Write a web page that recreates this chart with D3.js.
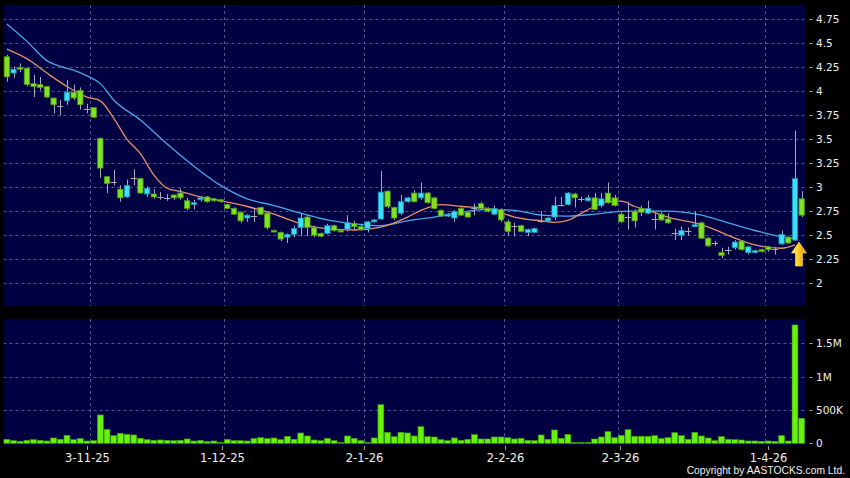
<!DOCTYPE html>
<html><head><meta charset="utf-8">
<script src="https://cdn.jsdelivr.net/npm/d3@7"></script>
<style>html,body{margin:0;padding:0;background:#000;}svg{display:block;}</style>
</head><body><svg id="c" width="850" height="478"></svg>
<script>
// ---- data ----
const openP  = [4.36,4.19,4.25,4.24,4.08,4.07,4.05,3.93,3.85,3.90, 3.99,4.01,3.82,3.83,3.51,3.11,3.06,2.98,2.90,3.10,
                3.09,2.93,2.93,2.90,2.89,2.92,2.94,2.86,2.82,2.87, 2.90,2.88,2.87,2.82,2.78,2.74,2.68,2.70,2.79,2.73,
                2.55,2.53,2.48,2.51,2.58,2.69,2.58,2.52,2.52,2.60, 2.55,2.56,2.62,2.59,2.57,2.64,2.67,2.96,2.79,2.73,
                2.85,2.94,2.89,2.94,2.89,2.76,2.70,2.68,2.78,2.74, 2.78,2.83,2.78,2.72,2.77,2.64,2.60,2.60,2.53,2.53,
                2.65,2.65,2.69,2.82,2.82,2.93,2.88,2.86,2.89,2.81, 2.94,2.89,2.72,2.69,2.75,2.78,2.73,2.67,2.72,2.67,
                2.52,2.50,2.55,2.59,2.63,2.47,2.42,2.32,2.35,2.37, 2.44,2.32,2.32,2.35,2.38,2.36,2.41,2.48,2.45,2.88];
const highP  = [4.38,4.26,4.29,4.25,4.17,4.15,4.05,3.93,3.91,4.12, 4.07,4.04,3.87,3.83,3.52,3.12,3.18,3.02,3.08,3.19,
                3.10,3.01,2.98,2.95,2.93,2.92,2.99,2.89,2.87,2.91, 2.91,2.89,2.88,2.83,2.79,2.75,2.72,2.78,2.80,2.73,
                2.56,2.54,2.52,2.60,2.73,2.71,2.60,2.53,2.62,2.61, 2.56,2.71,2.65,2.62,2.65,2.67,3.17,2.97,2.80,2.92,
                2.90,2.97,3.05,2.95,2.90,2.77,2.73,2.76,2.79,2.75, 2.83,2.85,2.79,2.81,2.78,2.66,2.63,2.61,2.57,2.58,
                2.75,2.69,2.90,2.90,2.95,2.94,2.90,2.92,2.94,2.94, 3.05,2.92,2.74,2.85,2.77,2.81,2.86,2.73,2.74,2.73,
                2.57,2.59,2.58,2.75,2.64,2.48,2.44,2.37,2.38,2.45, 2.45,2.39,2.35,2.36,2.39,2.38,2.55,2.49,3.59,2.96];
const lowP   = [4.10,4.14,4.20,4.05,3.94,4.01,3.93,3.77,3.75,3.86, 3.91,3.81,3.77,3.72,3.10,2.94,3.02,2.85,2.89,3.02,
                2.93,2.90,2.88,2.87,2.86,2.87,2.87,2.76,2.77,2.85, 2.84,2.85,2.84,2.77,2.71,2.63,2.64,2.64,2.71,2.56,
                2.53,2.44,2.42,2.48,2.49,2.49,2.48,2.48,2.51,2.54, 2.53,2.54,2.56,2.55,2.53,2.63,2.66,2.78,2.66,2.71,
                2.84,2.84,2.87,2.83,2.77,2.69,2.69,2.64,2.70,2.68, 2.71,2.76,2.74,2.71,2.64,2.50,2.49,2.53,2.49,2.52,
                2.63,2.64,2.66,2.80,2.81,2.79,2.85,2.85,2.76,2.79, 2.83,2.80,2.63,2.56,2.58,2.70,2.72,2.56,2.65,2.62,
                2.45,2.45,2.50,2.59,2.46,2.38,2.39,2.26,2.30,2.35, 2.34,2.30,2.31,2.32,2.33,2.30,2.40,2.41,2.44,2.69];
const closeP = [4.15,4.23,4.23,4.07,4.05,4.04,3.94,3.86,3.85,3.99, 3.93,3.86,3.82,3.73,3.20,3.04,3.06,2.89,3.02,3.10,
                2.94,2.99,2.90,2.90,2.89,2.89,2.89,2.78,2.84,2.89, 2.85,2.86,2.86,2.78,2.72,2.65,2.71,2.70,2.72,2.58,
                2.54,2.46,2.51,2.57,2.68,2.58,2.50,2.49,2.60,2.55, 2.54,2.63,2.59,2.56,2.64,2.66,2.95,2.80,2.68,2.85,
                2.89,2.85,2.94,2.84,2.78,2.70,2.72,2.75,2.71,2.69, 2.78,2.78,2.75,2.78,2.66,2.54,2.60,2.54,2.56,2.57,
                2.65,2.68,2.81,2.82,2.94,2.89,2.88,2.89,2.77,2.88, 2.84,2.81,2.64,2.69,2.65,2.74,2.78,2.67,2.66,2.63,
                2.52,2.55,2.55,2.61,2.47,2.39,2.42,2.29,2.35,2.43, 2.35,2.38,2.34,2.33,2.35,2.36,2.51,2.42,3.09,2.71];
const volumeK = [60,40,30,45,55,45,35,80,60,120, 55,70,35,40,425,210,115,150,135,125,
                 75,55,45,50,45,40,45,65,35,45, 25,35,15,60,40,40,35,70,85,70,
                 80,55,105,60,155,110,50,40,75,40, 15,110,75,40,15,80,580,165,100,165,
                 155,110,250,100,95,55,40,80,45,60, 130,65,65,95,95,85,65,75,45,40,
                 125,60,200,75,135,15,15,15,65,95, 175,85,120,205,105,105,105,115,70,85,
                 160,115,60,165,110,80,40,100,60,55, 50,35,35,30,35,30,115,35,1775,375];
const ma10Idx = [0,3,6,9,12,14,16,18,20,22,24,26,29,32,36,40,44,48,52,56,60,62,65,68,72,76,80,82,84,86,88,90,92,94,96,100,103,106,109,112,116,118];
const ma10Val = [4.44,4.34,4.19,4.05,3.94,3.90,3.72,3.50,3.35,3.13,2.99,2.955,2.90,2.86,2.80,2.72,2.62,2.57,2.555,2.585,2.69,2.76,2.82,2.80,2.78,2.69,2.65,2.635,2.655,2.73,2.80,2.85,2.855,2.80,2.76,2.67,2.63,2.56,2.47,2.40,2.365,2.40];
const ma20Idx = [0,3,6,8,10,12,14,16,20,24,28,32,36,40,44,48,52,56,60,64,68,72,76,80,84,88,92,96,100,104,108,112,116,118];
const ma20Val = [4.70,4.52,4.32,4.26,4.22,4.16,4.08,3.91,3.70,3.45,3.22,3.02,2.88,2.81,2.73,2.66,2.62,2.60,2.65,2.69,2.74,2.77,2.76,2.71,2.70,2.72,2.75,2.755,2.75,2.71,2.63,2.55,2.485,2.47];
const priceTicks = [2,2.25,2.5,2.75,3,3.25,3.5,3.75,4,4.25,4.5,4.75];
const priceTickLabels = ["2","2.25","2.5","2.75","3","3.25","3.5","3.75","4","4.25","4.5","4.75"];
const volTicks = [0,500,1000,1500];
const volTickLabels = ["0","500K","1M","1.5M"];
const dateTickIdx = [13,33,54,75,92,114];
const dateTickLabels = ["3-11-25","1-12-25","2-1-26","2-2-26","2-3-26","1-4-26"];
const signalIdx = 118;

// ---- layout ----
const svg = d3.select("#c");
const L = 3.5, R = 805;
const mainTop = 5, mainBot = 306, volTop = 319, volBot = 445;
const days = d3.range(openP.length);

const x = d3.scaleBand().domain(days).range([L, R]).paddingInner(0.2).paddingOuter(0.1);
const xv = d3.scaleBand().domain(days).range([L, R]).paddingInner(0.12).paddingOuter(0.06);
// date labels in the reference sit on a slightly wider point scale than the grid
const xl = d3.scalePoint().domain(days).range([-0.4, 802.0]);
const step = x.step();
const cx = i => x(i) + x.bandwidth() / 2;
const gridX = i => cx(i) - step / 2;
const y = d3.scaleLinear().domain([2, 4.75]).range([283.3, 19.3]);
const yv = d3.scaleLinear().domain([0, 1500]).range([443.3, 343.3]);

svg.append("rect").attr("width", 850).attr("height", 478).attr("fill", "#000");
svg.append("rect").attr("x", L).attr("y", mainTop).attr("width", R - L).attr("height", mainBot - mainTop).attr("fill", "#000042");
svg.append("rect").attr("x", L).attr("y", volTop).attr("width", R - L).attr("height", volBot - volTop).attr("fill", "#000042");

const gridColor = "#55558a";
svg.append("g").selectAll("line").data(priceTicks).join("line")
  .attr("x1", L).attr("x2", R).attr("y1", d => Math.round(y(d)) + 0.5).attr("y2", d => Math.round(y(d)) + 0.5)
  .attr("stroke", gridColor).attr("stroke-dasharray", "3,3").attr("stroke-width", 1);
svg.append("g").selectAll("line").data(volTicks.slice(1)).join("line")
  .attr("x1", L).attr("x2", R).attr("y1", d => Math.round(yv(d)) + 0.5).attr("y2", d => Math.round(yv(d)) + 0.5)
  .attr("stroke", gridColor).attr("stroke-dasharray", "3,3");
[[mainTop, mainBot], [volTop, volBot]].forEach(([t, b]) => {
  svg.append("g").selectAll("line").data(dateTickIdx).join("line")
    .attr("x1", d => Math.round(gridX(d)) + 0.5).attr("x2", d => Math.round(gridX(d)) + 0.5)
    .attr("y1", t).attr("y2", b)
    .attr("stroke", gridColor).attr("stroke-dasharray", "3,3");
});

// moving averages
const line = d3.line().x(d => cx(d[0])).y(d => y(d[1])).curve(d3.curveMonotoneX);
svg.append("path").attr("d", line(ma20Idx.map((d, k) => [d, ma20Val[k]])))
  .attr("fill", "none").attr("stroke", "#4aa6e6").attr("stroke-width", 1.3);
svg.append("path").attr("d", line(ma10Idx.map((d, k) => [d, ma10Val[k]])))
  .attr("fill", "none").attr("stroke", "#e4906c").attr("stroke-width", 1.3);

// candles
const gC = svg.append("g");
days.forEach(i => {
  const o = openP[i], c = closeP[i], h = highP[i], l = lowP[i];
  const xc = Math.round(cx(i)) + 0.5;
  gC.append("line").attr("x1", xc).attr("x2", xc).attr("y1", y(h)).attr("y2", y(l))
    .attr("stroke", "#a9a9bd").attr("stroke-width", 1);
  if (o === c) {
    gC.append("line").attr("x1", x(i) - 0.5).attr("x2", x(i) + x.bandwidth() + 0.5)
      .attr("y1", Math.round(y(o)) + 0.5).attr("y2", Math.round(y(o)) + 0.5)
      .attr("stroke", "#a9a9bd").attr("stroke-width", 1);
  } else {
    const up = c > o;
    const top = y(Math.max(o, c)), bot = y(Math.min(o, c));
    gC.append("rect").attr("x", x(i)).attr("y", top)
      .attr("width", x.bandwidth()).attr("height", Math.max(1.5, bot - top))
      .attr("fill", up ? "#3ae0f8" : "#7fe323")
      .attr("stroke", up ? "#1d8fa8" : "#4b9a12").attr("stroke-width", 0.8);
  }
});

// signal arrow
const ax = cx(signalIdx) + 4, ay = y(lowP[signalIdx]) + 1;
const defs = svg.append("defs");
const grad = defs.append("linearGradient").attr("id", "ag").attr("x1", 0).attr("x2", 1).attr("y1", 0).attr("y2", 0);
grad.append("stop").attr("offset", "0%").attr("stop-color", "#fff0a0");
grad.append("stop").attr("offset", "45%").attr("stop-color", "#ffd020");
grad.append("stop").attr("offset", "100%").attr("stop-color", "#d99000");
svg.append("path")
  .attr("d", `M${ax},${ay} L${ax + 7.5},${ay + 11} L${ax + 3.5},${ay + 11} L${ax + 3.5},${ay + 24} L${ax - 3.5},${ay + 24} L${ax - 3.5},${ay + 11} L${ax - 7.5},${ay + 11} Z`)
  .attr("fill", "url(#ag)").attr("stroke", "#ffe680").attr("stroke-width", 0.6);

// volume bars
svg.append("g").selectAll("rect").data(days).join("rect")
  .attr("x", i => xv(i)).attr("width", xv.bandwidth())
  .attr("y", i => yv(volumeK[i])).attr("height", i => yv(0) - yv(volumeK[i]))
  .attr("fill", "#66f20a").attr("stroke", "#3f9a08").attr("stroke-width", 0.6);

// axis labels
const font = "DejaVu Sans, sans-serif";
const ga = svg.append("g");
priceTicks.forEach((t, k) => {
  ga.append("line").attr("x1", 809.5).attr("x2", 812.5).attr("y1", Math.round(y(t)) + 0.5).attr("y2", Math.round(y(t)) + 0.5).attr("stroke", "#aaa");
  ga.append("text").attr("x", 816).attr("y", y(t) + 4).text(priceTickLabels[k])
    .attr("fill", "#f0f0f0").attr("font-family", font).attr("font-size", "10.5px");
});
volTicks.forEach((t, k) => {
  ga.append("line").attr("x1", 809.5).attr("x2", 812.5).attr("y1", Math.round(yv(t)) + 0.5).attr("y2", Math.round(yv(t)) + 0.5).attr("stroke", "#aaa");
  ga.append("text").attr("x", 816).attr("y", yv(t) + 4).text(volTickLabels[k])
    .attr("fill", "#f0f0f0").attr("font-family", font).attr("font-size", "10.5px");
});
dateTickIdx.forEach((d, k) => {
  const xx = Math.round(xl(d)) + 0.5;
  ga.append("line").attr("x1", xx).attr("x2", xx).attr("y1", 446).attr("y2", 450).attr("stroke", "#999");
  ga.append("text").attr("x", xx).attr("y", 461.5).attr("text-anchor", "middle").text(dateTickLabels[k])
    .attr("fill", "#f0f0f0").attr("font-family", font).attr("font-size", "11.5px");
});
svg.append("text").attr("x", 845).attr("y", 474).attr("text-anchor", "end")
  .text("Copyright by AASTOCKS.com Ltd.")
  .attr("fill", "#f0f0f0").attr("font-family", "Liberation Sans, Arial, sans-serif").attr("font-size", "10.3px");
</script></body></html>
